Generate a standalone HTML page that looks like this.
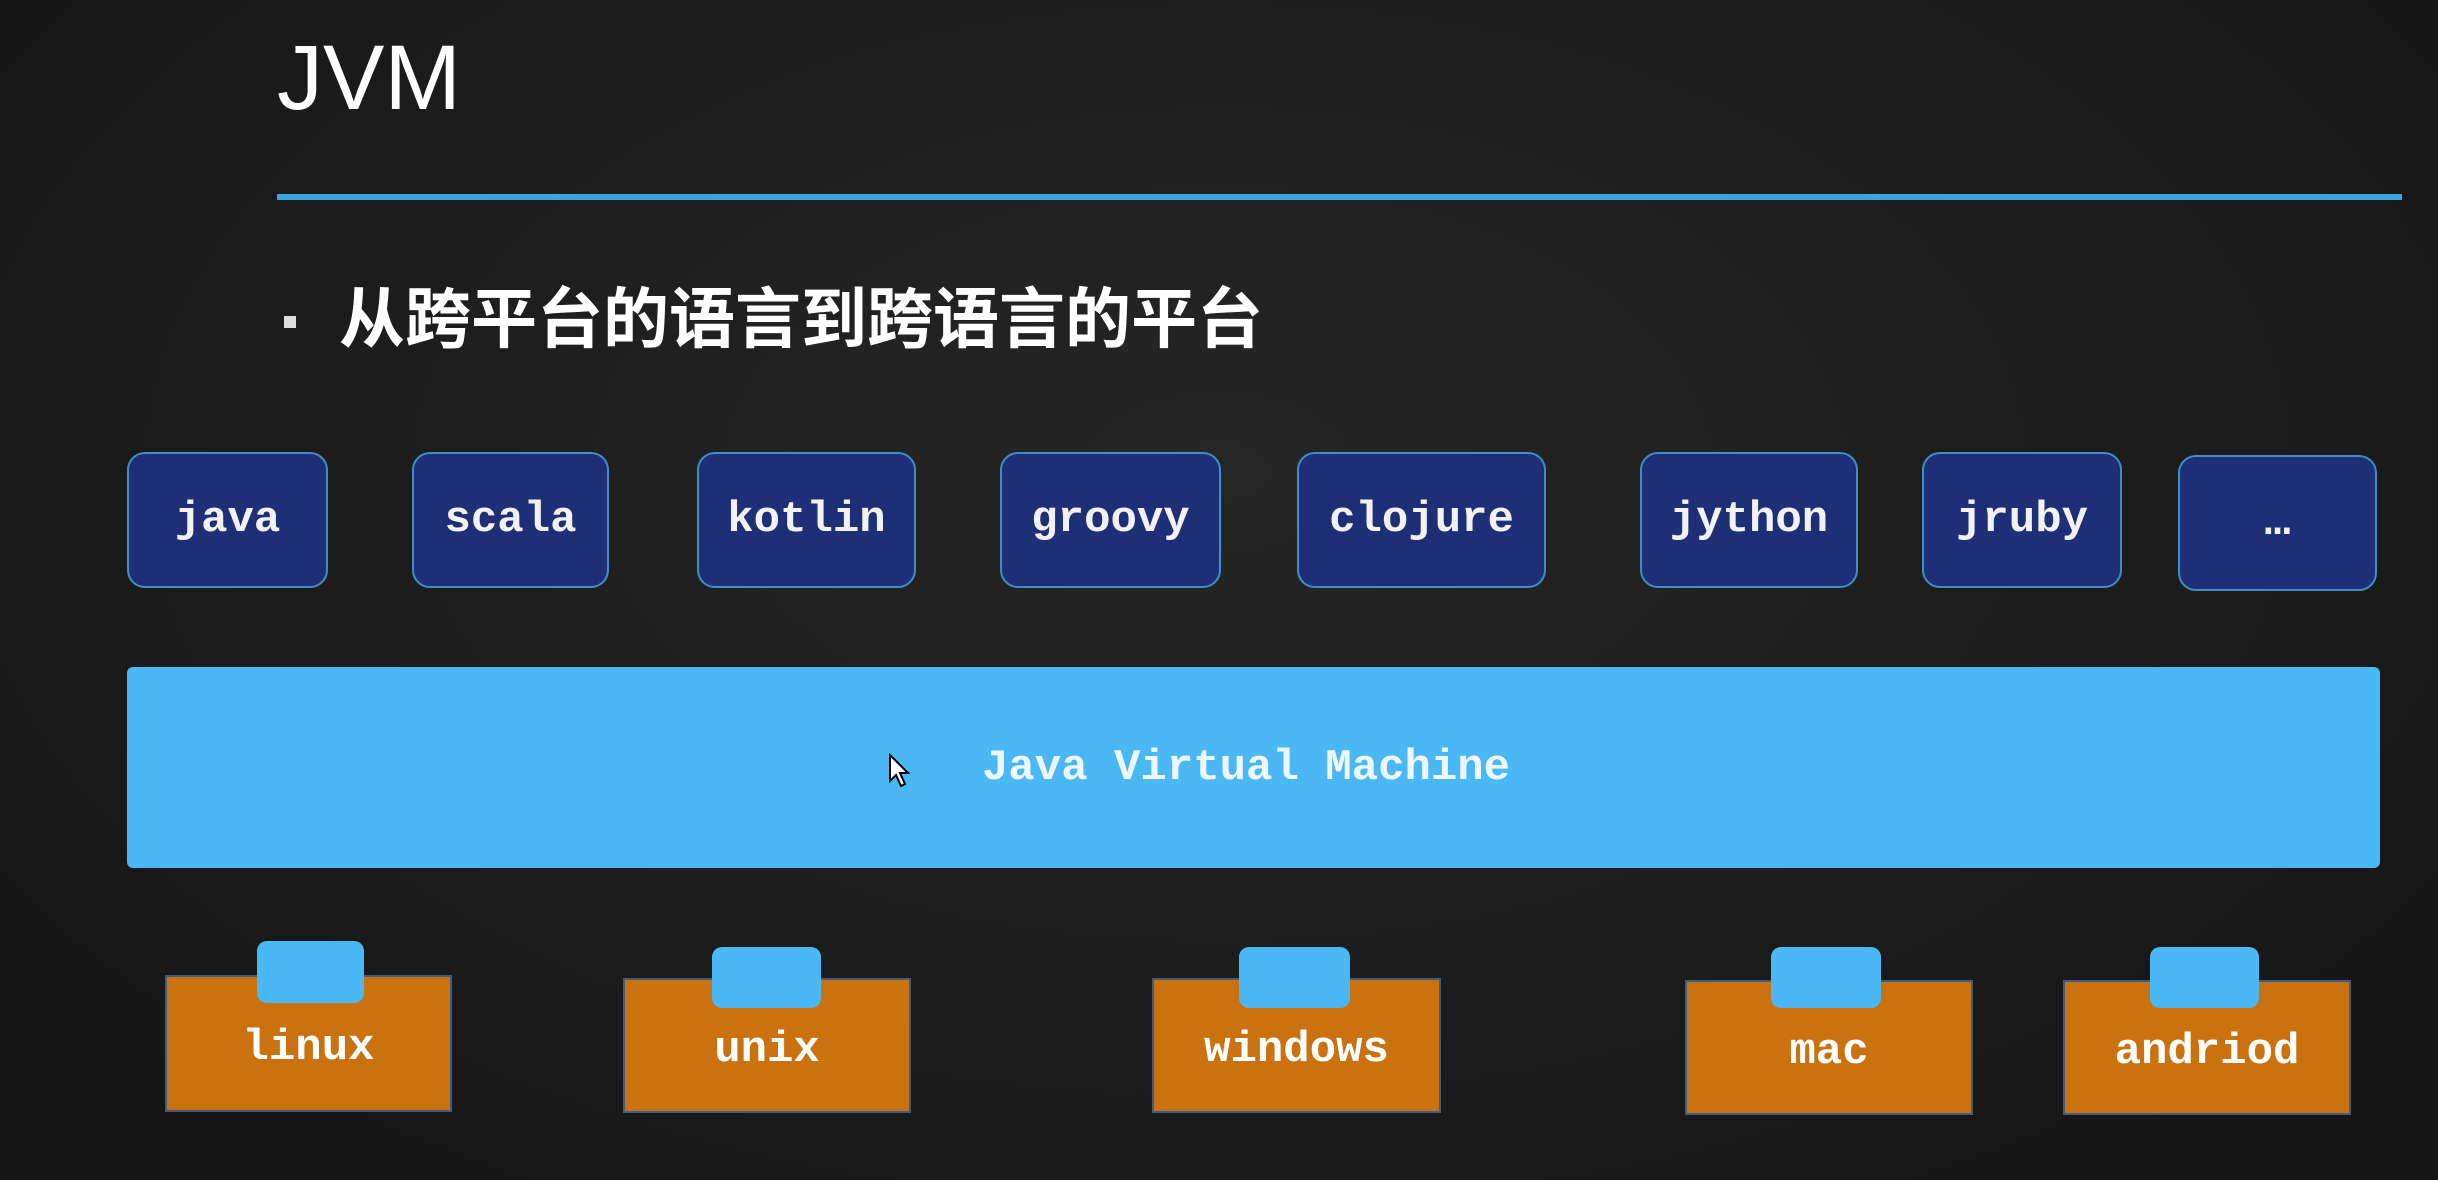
<!DOCTYPE html>
<html><head><meta charset="utf-8"><style>
html,body{margin:0;padding:0}
body{width:2438px;height:1180px;position:relative;overflow:hidden;background:radial-gradient(ellipse at 50% 40%,#262626 0%,#1b1b1b 60%,#141414 100%);font-family:"Liberation Sans","Noto Sans CJK SC",sans-serif}
.a{position:absolute;box-sizing:border-box}
.lang{background:#1f2f77;border:2px solid #3d8fc4;border-radius:18px;color:#f2f2f2;font:bold 44px "Liberation Mono",monospace;display:flex;align-items:center;justify-content:center}
.os{background:#c9720f;color:#fff;font:bold 44px "Liberation Mono",monospace;display:flex;align-items:center;justify-content:center;padding-top:8px;border:2px solid #3a5f80}
.tab{background:#4ab8f5;border-radius:10px}
</style></head><body>
<div class="a" style="left:277px;top:32px;font-size:92px;color:#fff;line-height:1">JVM</div>
<div class="a" style="left:277px;top:194px;width:2125px;height:6px;background:#3aa6e0"></div>
<div class="a" style="left:284px;top:316px;width:12px;height:12px;background:#ddd"></div>
<div class="a" style="left:339px;top:280px;font-size:66px;font-weight:bold;color:#fff;line-height:1.2;white-space:nowrap">从跨平台的语言到跨语言的平台</div>

<div class="a lang" style="left:127px;top:452px;width:201px;height:136px">java</div>
<div class="a lang" style="left:412px;top:452px;width:197px;height:136px">scala</div>
<div class="a lang" style="left:697px;top:452px;width:219px;height:136px">kotlin</div>
<div class="a lang" style="left:1000px;top:452px;width:221px;height:136px">groovy</div>
<div class="a lang" style="left:1297px;top:452px;width:249px;height:136px">clojure</div>
<div class="a lang" style="left:1640px;top:452px;width:218px;height:136px">jython</div>
<div class="a lang" style="left:1922px;top:452px;width:200px;height:136px">jruby</div>
<div class="a lang" style="left:2178px;top:455px;width:199px;height:136px">…</div>

<div class="a" style="left:127px;top:667px;width:2253px;height:201px;background:#4ab8f5;border-radius:6px"></div>
<div class="a" style="left:982px;top:743px;font:bold 44px 'Liberation Mono',monospace;color:#eef7ff">Java Virtual Machine</div>
<svg class="a" style="left:888px;top:753px" width="24" height="36" viewBox="0 0 12 18"><path d="M1 1 L1 14 L4 11 L6.5 16.5 L8.5 15.5 L6 10 L10 10 Z" fill="#fff" stroke="#000" stroke-width="1"/></svg>

<div class="a os" style="left:165px;top:975px;width:287px;height:137px">linux</div>
<div class="a tab" style="left:257px;top:941px;width:107px;height:62px"></div>
<div class="a os" style="left:623px;top:978px;width:288px;height:135px">unix</div>
<div class="a tab" style="left:712px;top:947px;width:109px;height:61px"></div>
<div class="a os" style="left:1152px;top:978px;width:289px;height:135px">windows</div>
<div class="a tab" style="left:1239px;top:947px;width:111px;height:61px"></div>
<div class="a os" style="left:1685px;top:980px;width:288px;height:135px">mac</div>
<div class="a tab" style="left:1771px;top:947px;width:110px;height:61px"></div>
<div class="a os" style="left:2063px;top:980px;width:288px;height:135px">andriod</div>
<div class="a tab" style="left:2150px;top:947px;width:109px;height:61px"></div>
</body></html>
